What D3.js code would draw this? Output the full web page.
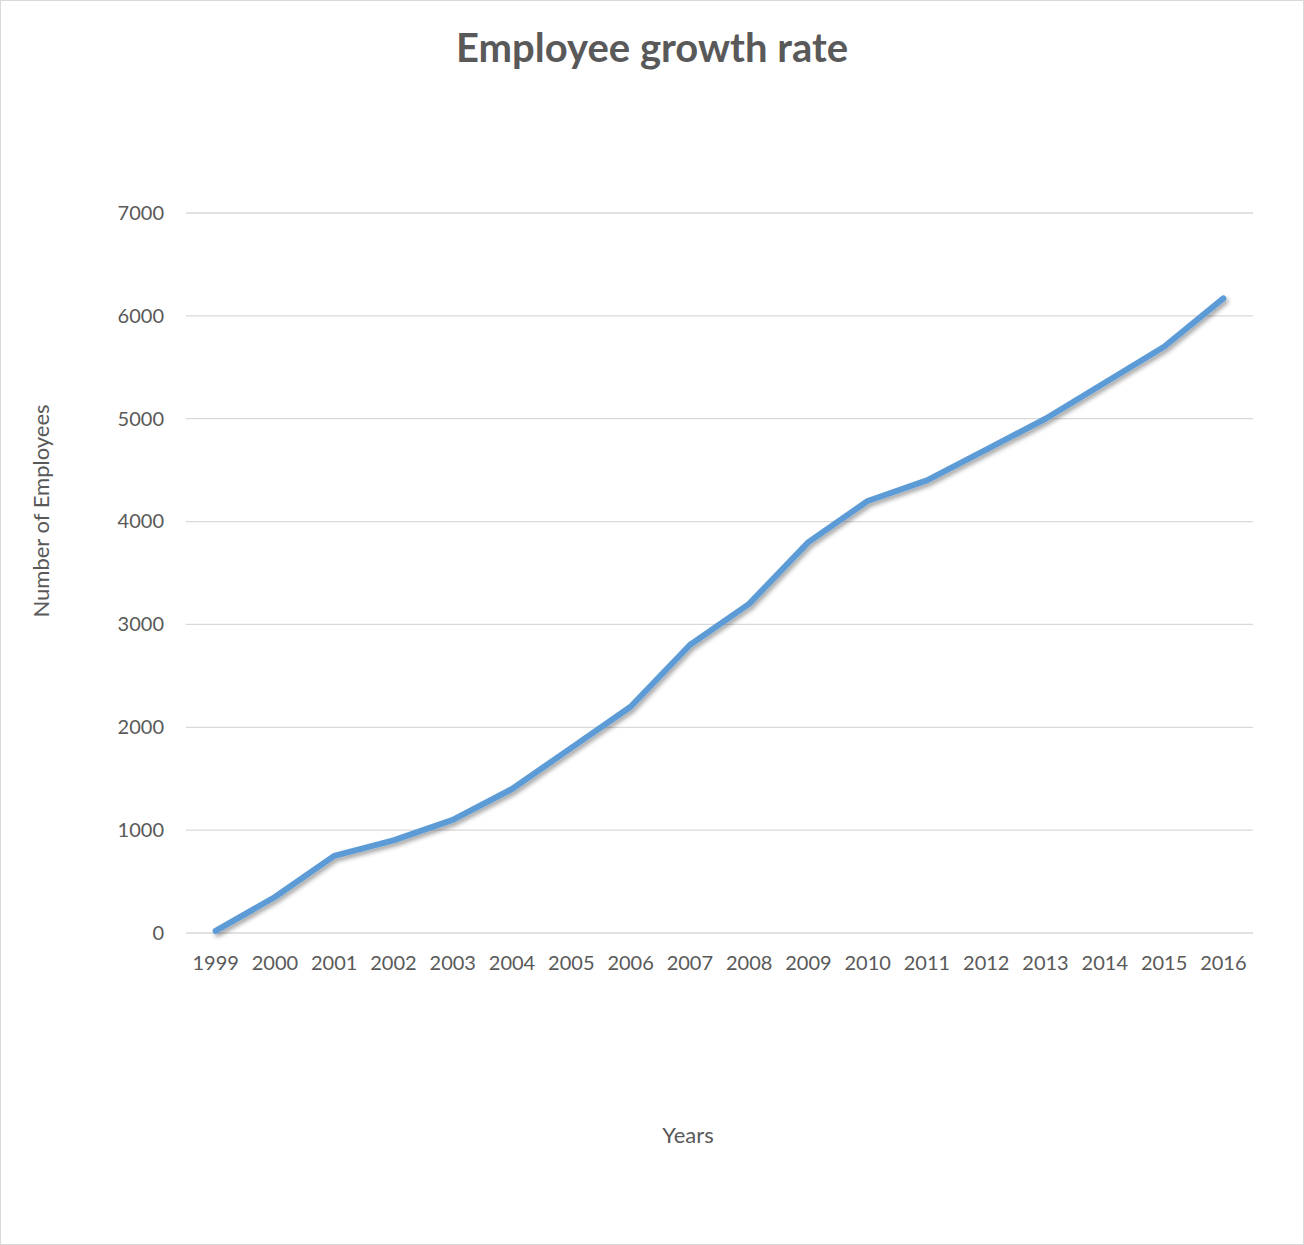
<!DOCTYPE html>
<html>
<head>
<meta charset="utf-8">
<script src="https://cdn.jsdelivr.net/npm/d3@7"></script>
<style>
  body { margin: 0; background: #fff; }
  svg { display: block; font-family: Lato, "Open Sans", sans-serif; }
  .grid line { stroke: #d9d9d9; stroke-width: 1.3; }
  .axis text { fill: #595959; font-size: 20px; font-family: Lato, "Open Sans", sans-serif; }
</style>
</head>
<body>
<script>
const years = ["1999","2000","2001","2002","2003","2004","2005","2006","2007","2008",
               "2009","2010","2011","2012","2013","2014","2015","2016"];
const employees = [20, 350, 750, 900, 1100, 1400, 1800, 2200, 2800, 3200,
                   3800, 4200, 4400, 4700, 5000, 5350, 5700, 6170];
const yTicks = [0, 1000, 2000, 3000, 4000, 5000, 6000, 7000];

const W = 1304, H = 1245;
const m = {top: 213, right: 51, bottom: 312, left: 186};

const svg = d3.select("body").append("svg")
  .attr("width", W).attr("height", H);

svg.append("rect")
  .attr("x", 0.5).attr("y", 0.5)
  .attr("width", W - 1).attr("height", H - 1)
  .attr("fill", "#fff").attr("stroke", "#d9d9d9");

const defs = svg.append("defs");
const f = defs.append("filter").attr("id", "shadow")
  .attr("x", "-10%").attr("y", "-10%").attr("width", "120%").attr("height", "120%");
f.append("feDropShadow").attr("dx", 2).attr("dy", 3).attr("stdDeviation", 2)
  .attr("flood-color", "#000").attr("flood-opacity", 0.35);

const x = d3.scaleBand().domain(years).range([m.left, W - m.right]);
const y = d3.scaleLinear().domain([0, 7000]).range([H - m.bottom, m.top]);

// gridlines
svg.append("g").attr("class", "grid")
  .selectAll("line").data(yTicks).enter().append("line")
  .attr("x1", m.left).attr("x2", W - m.right)
  .attr("y1", d => y(d)).attr("y2", d => y(d));

// y axis labels
const yAxis = d3.axisLeft(y).tickValues(yTicks).tickSize(0).tickPadding(22)
  .tickFormat(d3.format("d"));
svg.append("g").attr("class", "axis")
  .attr("transform", "translate(" + m.left + ",0)")
  .call(yAxis)
  .call(g => g.select(".domain").remove());

// x axis labels
const xAxis = d3.axisBottom(x).tickSize(0).tickPadding(23);
svg.append("g").attr("class", "axis")
  .attr("transform", "translate(0," + (H - m.bottom) + ")")
  .call(xAxis)
  .call(g => g.select(".domain").remove());

// line
const line = d3.line()
  .x((d, i) => x(years[i]) + x.bandwidth() / 2)
  .y(d => y(d));

svg.append("path")
  .datum(employees)
  .attr("d", line)
  .attr("fill", "none")
  .attr("stroke", "#5b9bd5")
  .attr("stroke-width", 6)
  .attr("stroke-linecap", "round")
  .attr("stroke-linejoin", "round")
  .attr("filter", "url(#shadow)");

// title
svg.append("text")
  .attr("x", W / 2).attr("y", 62)
  .attr("text-anchor", "middle")
  .style("font-size", "40px").style("font-weight", "bold")
  .style("fill", "#595959")
  .text("Employee growth rate");

// axis titles
svg.append("text")
  .attr("x", 688).attr("y", 1143)
  .attr("text-anchor", "middle")
  .style("font-size", "22px").style("fill", "#595959")
  .text("Years");

svg.append("text")
  .attr("transform", "translate(49,511) rotate(-90)")
  .attr("text-anchor", "middle")
  .style("font-size", "22px").style("fill", "#595959")
  .text("Number of Employees");
</script>
</body>
</html>
